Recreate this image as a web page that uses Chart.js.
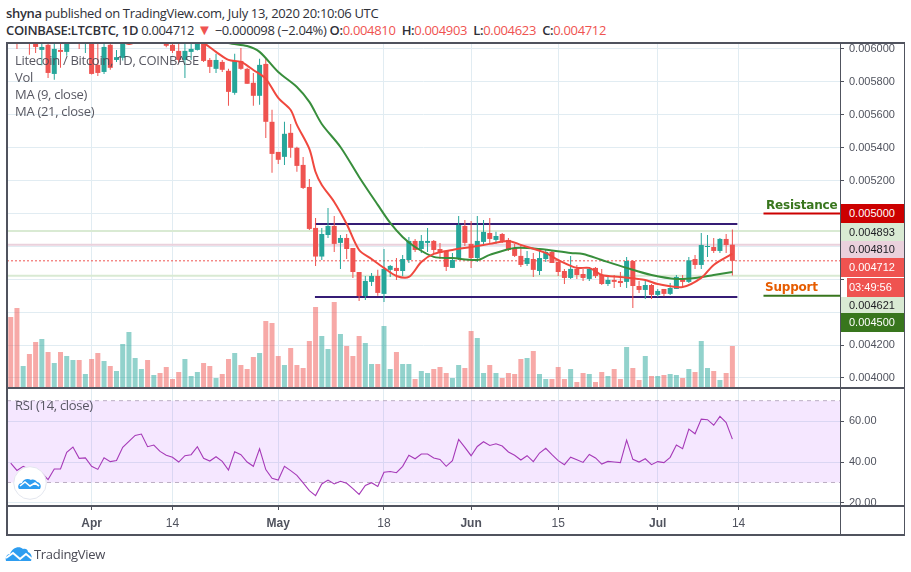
<!DOCTYPE html>
<html>
<head>
<meta charset="utf-8">
<title>LTCBTC</title>
<script src="https://cdn.jsdelivr.net/npm/chart.js@4/dist/chart.umd.js"></script>
<style>
    html, body { margin: 0; padding: 0; background: #fff; }
    #page { position: relative; width: 911px; height: 572px; overflow: hidden; font-family: "Open Sans", sans-serif; color: #2f3038; }
    canvas { position: absolute; left: 0; }
    .txt { position: absolute; white-space: nowrap; }
    .row { font-size: 13px; left: 6px; letter-spacing: -0.33px; }
    .row b { font-weight: 600; }
    .red { color: #ef5350; }
    .pane { font-size: 13px; left: 15px; color: rgba(74, 74, 85, 0.92); line-height: 17px; letter-spacing: -0.3px; }
    .tag { position: absolute; font: 11px "Liberation Sans", sans-serif; box-sizing: border-box; }
    .rule { position: absolute; background: #50535e; }
</style>
</head>
<body>
<div id="page">
    <div class="txt row" style="top:4px"><b>shyna</b> published on TradingView.com, July 13, 2020 20:10:06 UTC</div>
    <div class="txt row" style="top:21px"><b>COINBASE:LTCBTC, 1D</b> 0.004712 <span class="red" style="font-size:15px;line-height:13px">&#9660;</span> &minus;0.000098 (&minus;2.04%) <b>O:</b><span class="red">0.004810</span> &nbsp;<b>H:</b><span class="red">0.004903</span> &nbsp;<b>L:</b><span class="red">0.004623</span> &nbsp;<b>C:</b><span class="red">0.004712</span></div>

    <canvas id="priceChart" width="911" height="345" style="top:43px"></canvas>
    <canvas id="rsiChart" width="911" height="147" style="top:388px"></canvas>

    <div class="txt pane" style="top:52px">Litecoin / Bitcoin, 1D, COINBASE<br>Vol<br>MA (9, close)<br>MA (21, close)</div>
    <div class="txt pane" style="top:397px">RSI (14, close)</div>

    <div class="txt" style="left:766px;top:198px;font:bold 12px 'DejaVu Sans';color:#38761d;letter-spacing:-0.2px">Resistance</div>
    <div class="txt" style="left:765px;top:280px;font:bold 12px 'DejaVu Sans';color:#e65c00;letter-spacing:-0.2px">Support</div>

    <div id="tags"></div>

    <!-- cover so the 20.00 label is cut at the pane edge -->
    <div style="position:absolute;left:841px;top:506px;width:63px;height:28px;background:#fff"></div>

    <div class="rule" style="left:6px;top:42px;width:899px;height:2px"></div>
    <div class="rule" style="left:6px;top:387px;width:899px;height:2px"></div>
    <div class="rule" style="left:6px;top:505px;width:899px;height:2px"></div>
    <div class="rule" style="left:6px;top:534px;width:899px;height:2px"></div>
    <div class="rule" style="left:6px;top:42px;width:2px;height:494px"></div>
    <div class="rule" style="left:904px;top:42px;width:1px;height:494px"></div>
    <div class="rule" style="left:840px;top:42px;width:1px;height:494px"></div>

    <!-- logo inside the RSI pane -->
    <svg style="position:absolute;left:13px;top:466px" width="34" height="34" viewBox="0 0 34 34">
        <circle cx="17" cy="17" r="16.3" fill="#fff" stroke="#e3e6ee"/>
        <path d="M6 23c-2-3 0-6 3-6 1-4 6-5 9-3 2-1 5 0 6 2 3 0 5 4 3 7z" fill="#2e9df0"/>
        <path d="M7 20l5-4 5 4 5-3 4 3" fill="none" stroke="#fff" stroke-width="1.6"/>
    </svg>
    <!-- footer logo -->
    <svg style="position:absolute;left:5px;top:544px" width="28" height="18" viewBox="0 0 28 18">
        <path d="M1 17c-1-4 1-7 4-7 2-6 9-9 13-5 3-1 5 1 5 3 3 1 5 5 3 9z" fill="#2e9df0"/>
        <path d="M1 14l7-5 7 6 6-5 6 5" fill="none" stroke="#fff" stroke-width="2"/>
    </svg>
    <div class="txt" style="left:34px;top:545px;font-size:13px;letter-spacing:-0.3px;color:#4a4a55">TradingView</div>
</div>

<script>
// day 0 is Apr 1 2020, the first candle is 13 days before it
const firstDay = -13;
const viewDays = [-13.6, 120.3];

const opens = [0.006130,0.006110,0.006060,0.006090,0.006060,0.005994,0.006025,0.005848,0.005994,0.005982,0.006050,0.006090,0.006060,
    0.006090,0.005903,0.005860,0.006025,0.005933,0.005946,0.006050,0.006120,0.006100,0.006150,0.006100,0.006140,0.006080,0.006025,0.005988,0.005933,0.005982,0.005994,0.006050,0.005933,
    0.005879,0.005921,0.005867,0.005733,0.005927,0.005879,0.005794,0.005715,0.005909,0.005557,0.005374,0.005344,0.005490,0.005399,0.005295,0.005161,
    0.004912,0.004738,0.004869,0.004924,0.004821,0.004851,0.004790,0.004644,0.004498,0.004584,0.004620,0.004511,0.004657,0.004669,0.004650,0.004717,0.004833,0.004784,0.004821,0.004833,0.004784,0.004772,0.004669,0.004723,0.004924,0.004815,0.004729,0.004827,0.004881,0.004839,0.004875,0.004839,0.004790,0.004742,
    0.004693,0.004723,0.004650,0.004723,0.004766,0.004705,0.004650,0.004608,0.004663,0.004632,0.004602,0.004669,0.004626,0.004571,0.004596,0.004590,0.004584,0.004711,0.004559,0.004535,0.004565,0.004505,0.004541,0.004511,0.004541,0.004608,0.004584,0.004723,0.004687,0.004796,0.004796,0.004772,0.004845,0.004810];
const highs = [0.006170,0.006150,0.006100,0.006120,0.006080,0.006060,0.006050,0.006040,0.006035,0.006080,0.006110,0.006110,0.006100,
    0.006120,0.006035,0.006040,0.006040,0.005994,0.006090,0.006140,0.006180,0.006180,0.006170,0.006150,0.006160,0.006120,0.006060,0.006035,0.006035,0.006035,0.006060,0.006090,0.005945,
    0.005970,0.005933,0.005879,0.005970,0.006006,0.005885,0.005854,0.005940,0.005946,0.005630,0.005374,0.005557,0.005544,0.005405,0.005343,0.005210,
    0.004973,0.004912,0.005033,0.004985,0.004869,0.004875,0.004790,0.004644,0.004620,0.004638,0.004657,0.004784,0.004687,0.004729,0.004748,0.004857,0.004845,0.004869,0.004912,0.004839,0.004821,0.004772,0.004760,0.004985,0.004960,0.004954,0.004985,0.004960,0.004973,0.004888,0.004881,0.004851,0.004815,0.004808,
    0.004772,0.004760,0.004784,0.004778,0.004778,0.004717,0.004663,0.004742,0.004687,0.004663,0.004675,0.004675,0.004663,0.004614,0.004626,0.004644,0.004736,0.004717,0.004590,0.004596,0.004571,0.004541,0.004541,0.004577,0.004626,0.004626,0.004736,0.004748,0.004881,0.004869,0.004851,0.004851,0.004875,0.004903];
const lows = [0.006060,0.006000,0.006040,0.005964,0.005975,0.005900,0.005824,0.005812,0.005885,0.005958,0.006040,0.006000,0.005975,
    0.005845,0.005836,0.005848,0.005873,0.005921,0.005930,0.006040,0.006100,0.006070,0.006080,0.006080,0.006090,0.006010,0.005975,0.005913,0.005824,0.005933,0.005990,0.005920,0.005854,
    0.005854,0.005860,0.005654,0.005721,0.005873,0.005788,0.005654,0.005660,0.005459,0.005247,0.005301,0.005295,0.005338,0.005253,0.005149,0.004900,
    0.004681,0.004717,0.004851,0.004766,0.004663,0.004723,0.004608,0.004468,0.004474,0.004559,0.004499,0.004462,0.004614,0.004596,0.004620,0.004699,0.004766,0.004760,0.004766,0.004760,0.004723,0.004650,0.004669,0.004717,0.004802,0.004669,0.004705,0.004802,0.004821,0.004815,0.004821,0.004772,0.004736,0.004675,
    0.004681,0.004614,0.004626,0.004705,0.004699,0.004620,0.004571,0.004602,0.004602,0.004590,0.004590,0.004608,0.004565,0.004559,0.004547,0.004553,0.004547,0.004426,0.004517,0.004480,0.004480,0.004492,0.004496,0.004505,0.004541,0.004553,0.004577,0.004663,0.004663,0.004736,0.004760,0.004760,0.004760,0.004623];
const closes = [0.006070,0.006060,0.006090,0.006050,0.006012,0.006012,0.005854,0.006000,0.005982,0.006050,0.006090,0.006060,0.006090,
    0.005848,0.005854,0.006012,0.005885,0.005950,0.006050,0.006120,0.006140,0.006130,0.006110,0.006130,0.006110,0.006019,0.005988,0.005933,0.005988,0.006000,0.006050,0.005927,0.005891,
    0.005933,0.005873,0.005739,0.005927,0.005879,0.005788,0.005715,0.005903,0.005557,0.005362,0.005326,0.005484,0.005399,0.005289,0.005155,0.004906,
    0.004738,0.004875,0.004924,0.004815,0.004851,0.004784,0.004644,0.004498,0.004590,0.004620,0.004517,0.004663,0.004681,0.004650,0.004723,0.004833,0.004778,0.004833,0.004833,0.004778,0.004760,0.004675,0.004717,0.004930,0.004821,0.004729,0.004833,0.004888,0.004845,0.004863,0.004833,0.004778,0.004742,0.004687,
    0.004729,0.004657,0.004729,0.004766,0.004699,0.004644,0.004608,0.004663,0.004626,0.004608,0.004663,0.004620,0.004571,0.004596,0.004584,0.004577,0.004711,0.004559,0.004535,0.004565,0.004505,0.004529,0.004511,0.004547,0.004614,0.004584,0.004715,0.004687,0.004808,0.004802,0.004772,0.004845,0.004808,0.004712];
const volumes = [71,80,22,34,46,49,36,25,36,32,28,28,14,
    29,35,27,22,17,44,56,30,19,28,13,15,21,9,16,29,12,16,25,22,10,14,29,35,23,19,31,35,67,65,32,23,40,23,20,47,
    81,52,39,86,54,42,32,52,45,24,24,62,19,36,24,24,9,17,15,19,21,15,10,23,20,57,50,15,23,15,10,15,14,29,
    30,37,14,9,9,21,9,19,6,15,14,6,16,12,19,9,41,20,8,32,12,12,13,14,13,10,19,16,47,20,17,8,15,42];
const rsiValues = [39.5,35.9,37.9,36.3,35.4,34.6,31.4,36.6,36.6,44.7,47.3,41.8,42,
    37.9,36.4,42.1,40.2,40.7,47.2,50.1,53,53.7,47.5,48.3,45.2,43.3,42.3,40,43.1,43.6,47.5,41.8,40.5,42.6,40.3,36.1,45,43.6,40,37.9,46.5,36.3,32,31.2,37.9,35.8,33.5,29.8,26,
    23.6,29.3,31.2,29.3,30.6,29.6,27,24.2,28.5,29.9,28.1,35,35.4,34.8,37.9,43.3,41.6,43.9,43.9,42,41.3,37.9,40.7,51.1,47.2,43.1,47.6,49.9,48.1,48.9,47.8,44.9,43.3,41,
    43.1,40.2,44.4,46.7,43.6,40.7,38.7,42.4,41.1,39.8,43.7,42,39,40.3,40,39.7,50.7,41.3,40,41.6,38.7,40.2,39.7,42.3,48.3,46.5,56.1,53.8,61,60.7,58,62.3,59.3,51.2];

// moving averages, read every few days
const ma9Days = [4,6,8,16,18,20,22,24,26,28,30,32,33,35,36,37,39,41,43,45,47,49,51,53,55,58,61,64,67,69,73,75,78,80,82,85,89,91,95,98,100,103];
const ma9Values = [0.006067,0.006030,0.006055,0.006060,0.006036,0.005982,0.005933,0.005921,0.005872,0.005818,0.005702,0.005629,0.005538,0.005392,0.005252,0.005173,0.005070,0.004936,0.004778,0.004723,0.004669,0.004620,0.004614,0.004705,0.004754,0.004778,0.004796,0.004815,0.004833,0.004809,0.004760,0.004717,0.004669,0.004669,0.004626,0.004614,0.004596,0.004571,0.004553,0.004608,0.004687,0.004754];
const ma21Days = [20,22,25,27,30,33,35,37,40,43,46,48,50,52,55,58,62,64,68,72,77,79,82,86,90,94,97,100,103];
const ma21Values = [0.006067,0.006036,0.006018,0.005982,0.005860,0.005769,0.005678,0.005544,0.005404,0.005222,0.005052,0.004942,0.004857,0.004796,0.004736,0.004729,0.004717,0.004748,0.004790,0.004784,0.004760,0.004754,0.004717,0.004669,0.004626,0.004602,0.004608,0.004626,0.004644];

const priceTicks = [0.0060,0.0058,0.0056,0.0054,0.0052,0.0050,0.0048,0.0046,0.0044,0.0042,0.0040];
const priceTickLabels = ['0.006000','0.005800','0.005600','0.005400','0.005200','','','','','0.004200','0.004000'];
const rsiTicks = [60,40,20];
const rsiTickLabels = ['60.00','40.00','20.00'];
const timeTicks = [0,13,30,47,61,75,91,104];
const timeTickLabels = ['Apr','14','May','18','Jun','15','Jul','14'];
const monthLabels = ['Apr','May','Jun','Jul'];

// drawn levels
const lastPrice = 0.004712;
const resistanceBox = 0.004936, supportBox = 0.004492, boxDays = [35.9,103.8];
const resistanceLevel = 0.005, supportLevel = 0.0045, levelDays = [108,120.3];
const paleLevels = [0.004893,0.004810,0.004621];

const upColor = '#26a69a', downColor = '#ef5350', gridColor = '#e1ecf2', axisText = '#50535e';

const days = opens.map((o, i) => firstDay + i);
const isUp = i => closes[i] >= opens[i];
const hLine = (y, from, to) => [{ x: from, y: y }, { x: to, y: y }];

// chart.js reserves room for the edge labels, here the panes must meet exactly
function noPadding(s) {
    s.paddingTop = 0; s.paddingBottom = 0; s.paddingLeft = 0; s.paddingRight = 0;
}

function lineSet(data, color, width, order, extra) {
    return Object.assign({
        type: 'line', data: data, borderColor: color, borderWidth: width, order: order,
        pointRadius: 0, fill: false, tension: 0
    }, extra || {});
}

function xAxis(showLabels) {
    return {
        type: 'linear', min: viewDays[0], max: viewDays[1], offset: false,
        afterBuildTicks: s => { s.ticks = timeTicks.map(v => ({ value: v })); },
        afterFit: s => { s.height = showLabels ? 29 : 0; noPadding(s); },
        border: { display: false },
        grid: { color: gridColor, offset: false, drawTicks: showLabels, tickLength: 4, tickColor: axisText },
        ticks: {
            display: showLabels, autoSkip: false, maxRotation: 0, padding: 6, color: axisText,
            callback: v => timeTickLabels[timeTicks.indexOf(v)],
            font: ctx => ({
                family: 'Liberation Sans', size: 12,
                weight: monthLabels.includes(timeTickLabels[ctx.index]) ? 'bold' : 'normal'
            })
        }
    };
}

function yAxis(min, max, tickVals, tickLabels) {
    return {
        position: 'right', min: min, max: max,
        afterBuildTicks: s => { s.ticks = tickVals.map(v => ({ value: v })); },
        afterFit: s => { s.width = 64; noPadding(s); },
        border: { display: false },
        grid: { color: gridColor, tickLength: 4, tickColor: axisText },
        ticks: {
            autoSkip: false, padding: 5, color: axisText, font: { family: 'Liberation Sans', size: 11 },
            callback: v => tickLabels[tickVals.indexOf(v)]
        }
    };
}

new Chart(document.getElementById('priceChart'), {
    type: 'bar',
    data: {
        datasets: [
            lineSet(ma9Days.map((d, i) => ({ x: d, y: ma9Values[i] })), '#f0483e', 2, 1, { tension: 0.3 }),
            lineSet(ma21Days.map((d, i) => ({ x: d, y: ma21Values[i] })), '#388e3c', 2, 2, { tension: 0.3 }),
            {
                data: days.map((d, i) => ({ x: d, y: [Math.min(opens[i], closes[i]), Math.max(opens[i], closes[i])] })),
                backgroundColor: days.map((d, i) => isUp(i) ? upColor : downColor),
                barThickness: 5, grouped: false, inflateAmount: 0, order: 3
            },
            {
                data: days.map((d, i) => ({ x: d, y: [lows[i], highs[i]] })),
                backgroundColor: days.map((d, i) => isUp(i) ? upColor : downColor),
                barThickness: 1, grouped: false, inflateAmount: 0, order: 4
            },
            lineSet(hLine(resistanceBox, boxDays[0], boxDays[1]), '#351c75', 2, 5),
            lineSet(hLine(supportBox, boxDays[0], boxDays[1]), '#351c75', 2, 5),
            lineSet(hLine(resistanceLevel, levelDays[0], levelDays[1]), '#cc0000', 2, 5),
            lineSet(hLine(supportLevel, levelDays[0], levelDays[1]), '#38761d', 2, 5),
            lineSet(hLine(lastPrice, viewDays[0], viewDays[1]), '#ef5350', 1, 6, { borderDash: [2, 2] }),
            {
                yAxisID: 'yVol',
                data: days.map((d, i) => ({ x: d, y: volumes[i] })),
                backgroundColor: days.map((d, i) => isUp(i) ? 'rgba(38,166,154,0.5)' : 'rgba(239,83,80,0.5)'),
                barThickness: 5, grouped: false, inflateAmount: 0, order: 7
            },
            lineSet(hLine(paleLevels[0], viewDays[0], viewDays[1]), '#d9ead3', 2, 8),
            lineSet(hLine(paleLevels[1], viewDays[0], viewDays[1]), '#ead1dc', 2, 8),
            lineSet(hLine(paleLevels[2], viewDays[0], viewDays[1]), '#d9ead3', 2, 8)
        ]
    },
    options: {
        responsive: false, animation: false,
        layout: { padding: { left: 7, right: 7, top: 0, bottom: 0 } },
        plugins: { legend: { display: false }, tooltip: { enabled: false } },
        scales: {
            x: xAxis(false),
            y: yAxis(0.003939, 0.006036, priceTicks, priceTickLabels),
            yVol: { display: false, min: 0, max: 345 }
        }
    }
});

new Chart(document.getElementById('rsiChart'), {
    type: 'line',
    data: {
        datasets: [
            lineSet(days.map((d, i) => ({ x: d, y: rsiValues[i] })), '#a63ab8', 1.1, 1),
            lineSet(hLine(70, viewDays[0], viewDays[1]), '#bcaec4', 1, 2, { borderDash: [4, 4] }),
            lineSet(hLine(30, viewDays[0], viewDays[1]), '#bcaec4', 1, 2, { borderDash: [4, 4], fill: '-1', backgroundColor: 'rgba(153,21,255,0.1)' })
        ]
    },
    options: {
        responsive: false, animation: false,
        layout: { padding: { left: 7, right: 7, top: 0, bottom: 0 } },
        plugins: { legend: { display: false }, tooltip: { enabled: false } },
        scales: {
            x: xAxis(true),
            y: yAxis(18.5, 76.2, rsiTicks, rsiTickLabels)
        }
    }
});

// boxed price labels on the axis
const tagTexts = ['0.005000','0.004893','0.004810','0.004712','03:49:56','0.004621','0.004500'];
const tagTops = [204,223,241,258,278,297,313];
const tagHeights = [19,18,17,19,19,16,19];
const tagFills = ['#cc0000','#d9ead3','#ead1dc','#ef5350','#ef5350','#d9ead3','#38761d'];
const tagInks = ['#fff','#1c1c22','#1c1c22','#fff','#fff','#1c1c22','#fff'];
tagTexts.forEach(function (t, i) {
    var el = document.createElement('div');
    el.className = 'tag';
    el.textContent = t;
    var left = t === '03:49:56' ? 847 : 841;
    el.style.cssText = 'left:' + left + 'px;top:' + tagTops[i] + 'px;width:' + (904 - left) + 'px;height:' + tagHeights[i] + 'px;background:' + tagFills[i] + ';color:' + tagInks[i] + ';padding-left:' + (849 - left) + 'px;line-height:' + tagHeights[i] + 'px';
    document.getElementById('tags').appendChild(el);
});
</script>
</body>
</html>
